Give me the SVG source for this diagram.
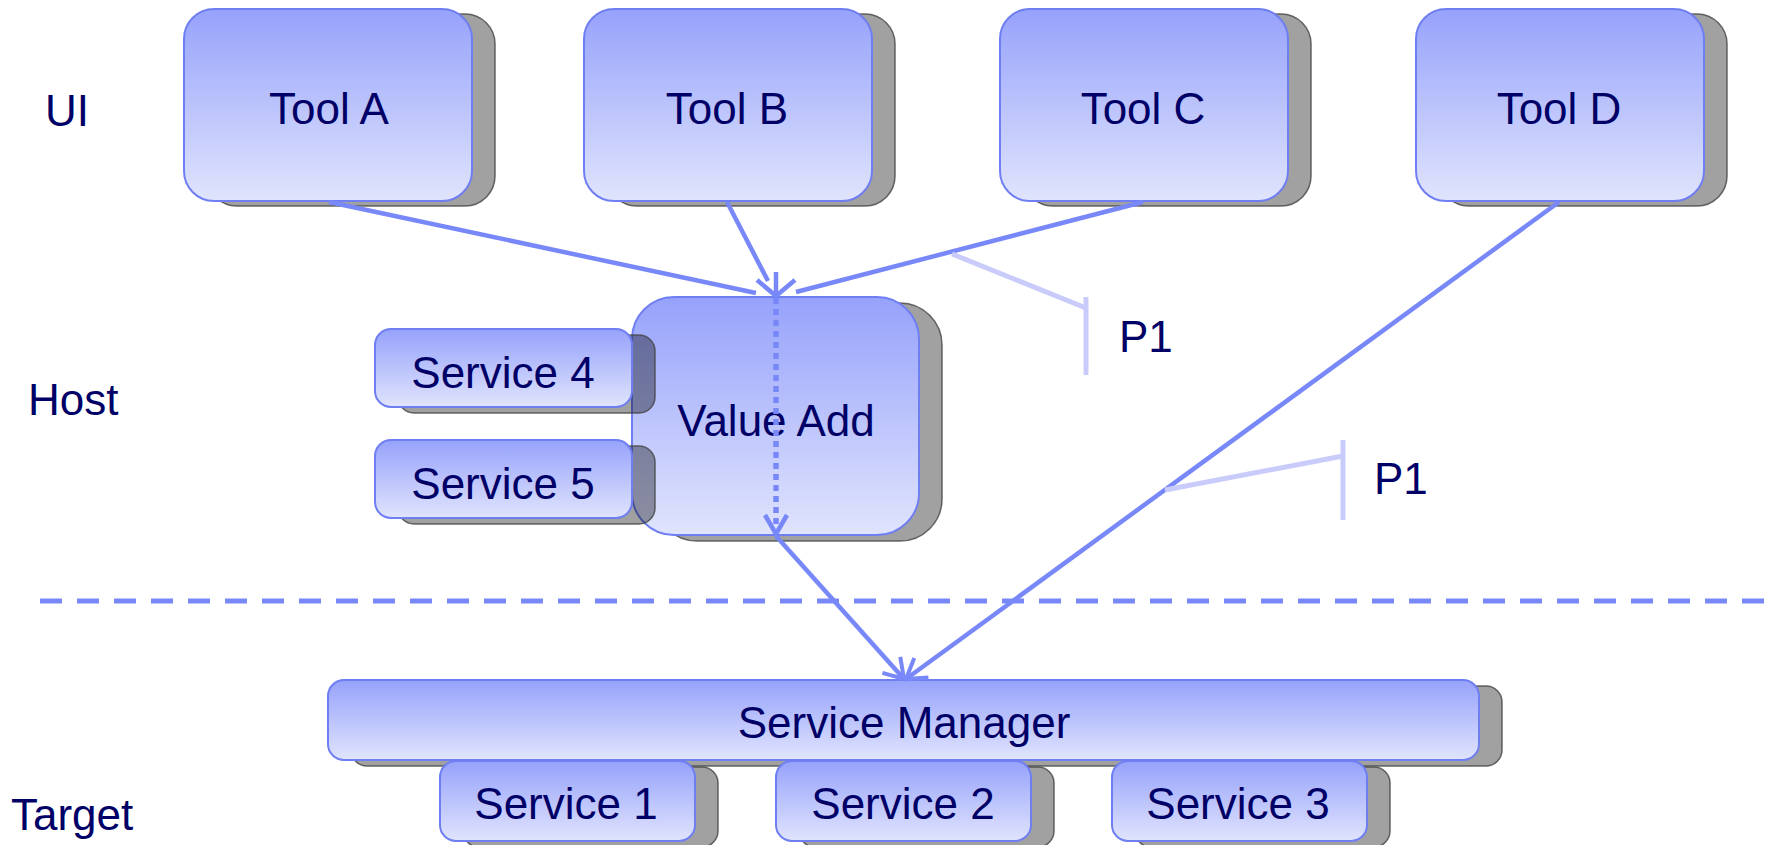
<svg xmlns="http://www.w3.org/2000/svg" width="1778" height="845" viewBox="0 0 1778 845">
<defs>
<linearGradient id="g" x1="0" y1="0" x2="0" y2="1">
<stop offset="0" stop-color="#96a2fb"/>
<stop offset="1" stop-color="#e0e4fd"/>
</linearGradient>
<marker id="v" markerUnits="userSpaceOnUse" markerWidth="40" markerHeight="40" refX="0" refY="0" orient="auto" overflow="visible">
<path d="M-19,-12 L0,0 L-19,12" fill="none" stroke="#7888f8" stroke-width="4"/>
</marker>
</defs>
<style>
.box{fill:url(#g);stroke:#6f7ff2;stroke-width:2}
.sh{fill:#000;fill-opacity:0.37;stroke:#444;stroke-opacity:0.8;stroke-width:1.5}
.t{font-family:"Liberation Sans",Arial,sans-serif;font-size:44px;fill:#000066;text-anchor:middle}
.lbl{font-family:"Liberation Sans",Arial,sans-serif;font-size:44px;fill:#000066}
.c{fill:none;stroke:#7888f8;stroke-width:4.5}
.p{fill:none;stroke:#c9ccfb;stroke-width:5}
</style>
<rect width="1778" height="845" fill="#fff"/>
<g id="labels">
<text class="lbl" x="45" y="126">UI</text>
<text class="lbl" x="28" y="415">Host</text>
<text class="lbl" x="11" y="830">Target</text>
</g>
<g id="toolA">
<rect class="sh" x="207" y="14" width="288" height="192" rx="30"/>
<rect class="box" x="184" y="9" width="288" height="192" rx="30"/>
<text class="t" x="329" y="124">Tool A</text>
</g>
<g id="toolB">
<rect class="sh" x="607" y="14" width="288" height="192" rx="30"/>
<rect class="box" x="584" y="9" width="288" height="192" rx="30"/>
<text class="t" x="727" y="124">Tool B</text>
</g>
<g id="toolC">
<rect class="sh" x="1023" y="14" width="288" height="192" rx="30"/>
<rect class="box" x="1000" y="9" width="288" height="192" rx="30"/>
<text class="t" x="1143" y="124">Tool C</text>
</g>
<g id="toolD">
<rect class="sh" x="1439" y="14" width="288" height="192" rx="30"/>
<rect class="box" x="1416" y="9" width="288" height="192" rx="30"/>
<text class="t" x="1559" y="124">Tool D</text>
</g>
<g id="valueAdd">
<rect class="sh" x="655" y="303" width="287" height="238" rx="42"/>
<rect class="box" x="632" y="297" width="287" height="238" rx="42"/>
<text class="t" x="776" y="436">Value Add</text>
</g>
<g id="service4">
<rect class="sh" x="398" y="335" width="257" height="78" rx="16"/>
<rect class="box" x="375" y="329" width="257" height="78" rx="16"/>
<text class="t" x="503" y="388">Service 4</text>
</g>
<g id="service5">
<rect class="sh" x="398" y="446" width="257" height="78" rx="16"/>
<rect class="box" x="375" y="440" width="257" height="78" rx="16"/>
<text class="t" x="503" y="499">Service 5</text>
</g>
<g id="serviceManager">
<rect class="sh" x="351" y="686" width="1151" height="80" rx="16"/>
<rect class="box" x="328" y="680" width="1151" height="80" rx="16"/>
<text class="t" x="904" y="738">Service Manager</text>
</g>
<g id="service1">
<rect class="sh" x="463" y="767" width="255" height="80" rx="16"/>
<rect class="box" x="440" y="761" width="255" height="80" rx="16"/>
<text class="t" x="566" y="819">Service 1</text>
</g>
<g id="service2">
<rect class="sh" x="799" y="767" width="255" height="80" rx="16"/>
<rect class="box" x="776" y="761" width="255" height="80" rx="16"/>
<text class="t" x="903" y="819">Service 2</text>
</g>
<g id="service3">
<rect class="sh" x="1135" y="767" width="255" height="80" rx="16"/>
<rect class="box" x="1112" y="761" width="255" height="80" rx="16"/>
<text class="t" x="1238" y="819">Service 3</text>
</g>
<g id="connectors">
<line class="c" x1="329" y1="202" x2="756" y2="293"/>
<line class="c" x1="727" y1="202" x2="768" y2="281"/>
<line class="c" x1="1143" y1="202" x2="796" y2="292"/>
<polyline class="c" points="757,280 776,296 795,280"/>
<line class="c" x1="776" y1="272" x2="776" y2="296"/>
<line x1="776" y1="298" x2="776" y2="533" stroke="#7888f8" stroke-width="5.5" stroke-dasharray="6,5"/>
<polyline class="c" points="765,515 776,534 787,515"/>
<line class="c" x1="776" y1="536" x2="904" y2="679" marker-end="url(#v)"/>
<line class="c" x1="1559" y1="202" x2="906" y2="679" marker-end="url(#v)"/>
<line x1="40" y1="601" x2="1770" y2="601" stroke="#7888f8" stroke-width="5" stroke-dasharray="22,15"/>
</g>
<g id="annotations">
<polyline class="p" points="952,254 1086,308"/>
<line class="p" x1="1086" y1="297" x2="1086" y2="375"/>
<text class="lbl" x="1119" y="352">P1</text>
<polyline class="p" points="1165,490 1343,456"/>
<line class="p" x1="1343" y1="440" x2="1343" y2="520"/>
<text class="lbl" x="1374" y="494">P1</text>
</g>
</svg>
